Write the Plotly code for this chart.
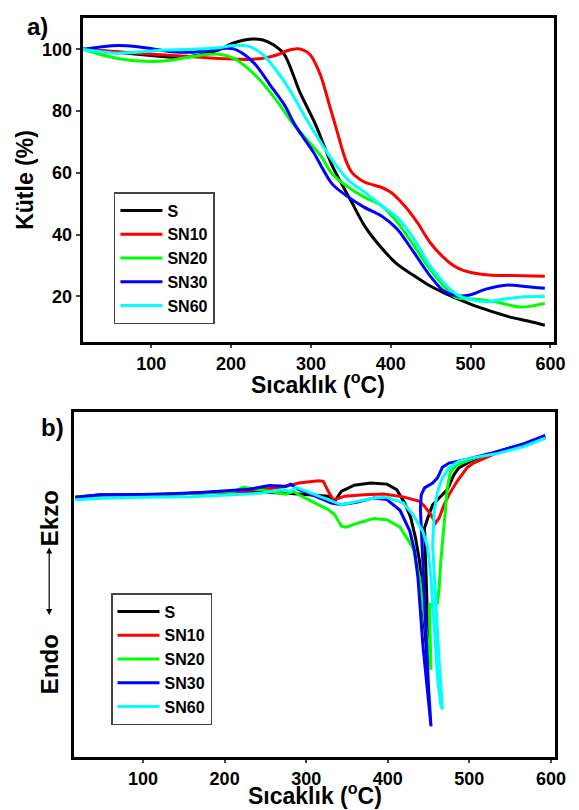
import plotly.graph_objects as go

FONT = "Liberation Sans, Arial, sans-serif"
names = ["S", "SN10", "SN20", "SN30", "SN60"]
colors = ["#000000", "#FF0000", "#00FF00", "#0000FF", "#00FFFF"]
x_title = "Sıcaklık (<sup>o</sup>C)"

# ---- panel a) TGA : temperature (°C) vs mass (%) ----
tga_S_x = [14, 58, 103, 135, 162, 185, 203, 226, 240, 253, 267, 286, 306, 326.5, 351, 367, 388, 408, 429, 449, 470, 490, 511, 531, 552, 572, 593]
tga_S_y = [100, 99, 97.9, 97.3, 98.2, 99.8, 102, 103.3, 103, 101.4, 98.2, 86.2, 75.5, 62.4, 50.5, 42.9, 35.8, 30.4, 26.7, 23.4, 20.7, 18.5, 16.4, 14.7, 13.1, 12.0, 10.6]

tga_SN10_x = [14, 58, 103, 149, 194, 221, 240, 258, 270, 280, 290, 299, 312, 322, 331, 343, 351, 367, 388, 400, 417, 433, 449, 466, 482, 499, 523, 552, 593]
tga_SN10_y = [100, 99.2, 98.4, 97.6, 96.9, 96.7, 97.1, 98.2, 99.5, 100.1, 99.8, 98.2, 91.6, 83, 75, 64.5, 60.2, 57.0, 55.3, 53.7, 49.4, 44.0, 37.5, 32.6, 29.4, 27.8, 26.9, 26.7, 26.5]

tga_SN20_x = [14, 58, 97, 126, 158, 185, 203, 221, 240, 258, 276, 294, 312, 326.5, 347, 367, 388, 408, 429, 449, 470, 482, 511, 531, 564, 593]
tga_SN20_y = [100, 97, 96, 96.5, 97.9, 98.4, 97.1, 93.8, 88.9, 83, 76.4, 71, 65.6, 59.7, 55.3, 52.1, 49.4, 44.0, 36.4, 28.8, 22.3, 19.6, 19.0, 18.2, 16.5, 17.7]

tga_SN30_x = [14, 58, 80, 103, 126, 149, 171, 194, 203, 217, 231, 249, 267, 280, 303, 326.5, 347, 367, 388, 408, 429, 449, 466, 482, 499, 519, 544, 568, 593]
tga_SN30_y = [100, 101.2, 100.9, 100.1, 99.2, 99, 99.5, 100.3, 100.1, 98.2, 94.9, 88.4, 81.9, 75.5, 66.7, 56.4, 52.1, 48.8, 46.1, 41.8, 34.2, 26.7, 21.8, 20.2, 20.4, 22.3, 23.6, 23.2, 22.6]

tga_SN60_x = [14, 58, 103, 149, 185, 203, 222, 240, 258, 276, 294, 312, 326.5, 347, 367, 388, 408, 429, 449, 470, 482, 499, 519, 540, 564, 593]
tga_SN60_y = [100, 98.7, 99.5, 100, 100.5, 101.2, 100.9, 98.2, 92.7, 85.7, 77.5, 69.9, 64.2, 57.5, 53.8, 49.4, 45.6, 38.6, 29.9, 23.4, 20.7, 19.0, 18.2, 19.0, 19.8, 19.9]

# ---- panel b) DSC : temperature (°C) vs heat flow (arbitrary units) ----
dsc_S_x = [17, 50, 100, 150, 211, 271, 303, 327, 331, 335, 343, 359, 379, 399, 411, 421, 428, 434, 439, 443, 447, 449, 448, 446, 445, 449, 455, 463, 473, 481, 487, 505, 535, 567, 593]
dsc_S_y = [75.3, 76.0, 76.0, 76.3, 77.0, 76.5, 76.0, 75.6, 75.1, 74.1, 77.0, 78.8, 79.4, 79.1, 77.5, 73.5, 69.5, 63.5, 56.7, 45.1, 32.6, 26.0, 45.0, 60.0, 66.4, 69.3, 73.1, 75.1, 77.5, 81.8, 83.8, 86.2, 88.6, 90.6, 92.8]

dsc_SN10_x = [17, 50, 100, 150, 211, 271, 291, 315, 321, 327, 333, 339, 347, 371, 395, 419, 431, 439, 445, 453, 458.5, 463, 469, 475, 485, 497, 505, 535, 567, 593]
dsc_SN10_y = [75.0, 76.0, 76.0, 76.3, 76.8, 78.2, 79.4, 80.1, 79.9, 77.0, 74.6, 74.9, 75.6, 76.0, 76.2, 75.4, 74.6, 74.1, 72.7, 70.2, 67.8, 69.3, 73.1, 76.0, 79.9, 83.8, 85.2, 88.3, 90.3, 92.5]

dsc_SN20_x = [17, 50, 100, 150, 211, 223, 251, 275, 285, 291, 311, 327, 335, 343, 349, 363, 383, 399, 415, 423, 431, 439, 445, 449, 453, 451, 455, 461, 463, 465, 469, 473, 477, 485, 505, 535, 567, 593]
dsc_SN20_y = [75.3, 76.0, 76.0, 76.3, 77.0, 78.2, 77.2, 76.2, 77.0, 76.0, 73.6, 71.7, 70.2, 66.9, 66.6, 67.8, 69.1, 68.8, 66.6, 63.5, 60.6, 51.9, 41.2, 32.6, 25.3, 44.1, 44.6, 44.6, 49.0, 56.7, 68.3, 78.0, 82.8, 84.7, 86.5, 88.5, 90.5, 92.7]

dsc_SN30_x = [17, 47, 100, 127, 170, 207, 230, 255, 275, 281, 291, 311, 331, 343, 363, 383, 399, 415, 427, 433, 437, 443, 449, 453, 450, 446, 442, 440, 441, 445, 455, 461, 467, 475, 495, 535, 567, 593]
dsc_SN30_y = [75.3, 76.0, 76.1, 76.2, 76.7, 77.2, 77.6, 78.7, 78.5, 79.1, 77.5, 75.6, 73.6, 73.1, 73.9, 75.1, 74.6, 71.5, 65.5, 59.6, 51.9, 32.6, 18.1, 8.9, 20.0, 40.0, 62.0, 72.0, 76.0, 78.0, 79.4, 80.9, 84.0, 85.2, 86.2, 88.6, 90.8, 93.2]

dsc_SN60_x = [17, 50, 100, 160, 211, 247, 271, 281, 287, 311, 331, 343, 363, 383, 399, 419, 431, 443, 449, 453, 457, 461, 465, 467, 463, 458.5, 455, 457, 461, 467, 475, 487, 503, 535, 567, 593]
dsc_SN60_y = [74.6, 75.0, 75.3, 75.4, 76.0, 76.5, 77.5, 77.0, 78.2, 76.0, 74.1, 73.1, 74.1, 75.1, 75.3, 73.6, 70.2, 65.4, 60.6, 51.9, 37.4, 22.9, 15.0, 13.8, 27.7, 47.0, 61.5, 71.2, 77.0, 80.9, 83.8, 85.7, 86.7, 88.0, 90.0, 92.4]

tga_x = [tga_S_x, tga_SN10_x, tga_SN20_x, tga_SN30_x, tga_SN60_x]
tga_y = [tga_S_y, tga_SN10_y, tga_SN20_y, tga_SN30_y, tga_SN60_y]
dsc_x = [dsc_S_x, dsc_SN10_x, dsc_SN20_x, dsc_SN30_x, dsc_SN60_x]
dsc_y = [dsc_S_y, dsc_SN10_y, dsc_SN20_y, dsc_SN30_y, dsc_SN60_y]

fig = go.Figure()
for n, c, xs, ys in zip(names, colors, tga_x, tga_y):
    fig.add_trace(go.Scatter(x=xs, y=ys, name=n, mode="lines",
                             line=dict(color=c, width=3, shape="spline", smoothing=0.8),
                             xaxis="x", yaxis="y", legend="legend"))
for n, c, xs, ys in zip(names, colors, dsc_x, dsc_y):
    fig.add_trace(go.Scatter(x=xs, y=ys, name=n, mode="lines",
                             line=dict(color=c, width=3),
                             xaxis="x2", yaxis="y2", legend="legend2"))

tickfont = dict(family=FONT, size=18, color="black", weight="bold")
titlefont = dict(family=FONT, size=23, color="black", weight="bold")
labelfont = dict(family=FONT, size=24, color="black", weight="bold")
legfont = dict(family=FONT, size=16, color="black", weight="bold")
axis_common = dict(showline=True, linewidth=3, linecolor="black", mirror=True,
                   showgrid=False, zeroline=False, tickfont=tickfont)

W, H = 579, 810
fig.update_layout(
    width=W, height=H, margin=dict(l=0, r=0, t=0, b=0),
    paper_bgcolor="white", plot_bgcolor="white",
    xaxis=dict(domain=[76 / W, 557 / W], range=[14, 605], anchor="y",
               ticks="outside", ticklen=3, tickwidth=2, tickmode="linear", tick0=0, dtick=100,
               **axis_common),
    yaxis=dict(domain=[1 - 334 / H, 1 - 10 / H], range=[5.2, 110.1], anchor="x",
               ticks="outside", ticklen=4, tickwidth=2, tickvals=[20, 40, 60, 80, 100],
               title=dict(text="Kütle (%)", font=titlefont, standoff=2),
               **axis_common),
    xaxis2=dict(domain=[67 / W, 558 / W], range=[15, 605.5], anchor="y2",
                ticks="outside", ticklen=3, tickwidth=2, tickmode="linear", tick0=0, dtick=100,
                **axis_common),
    yaxis2=dict(domain=[1 - 749 / H, 1 - 404 / H], range=[0, 100], anchor="x2",
                ticks="", showticklabels=False, **axis_common),
    legend=dict(x=108 / W, y=1 - 184 / H, xanchor="left", yanchor="top",
                bgcolor="white", bordercolor="#444444", borderwidth=1.5,
                font=legfont, itemwidth=42),
    legend2=dict(x=105 / W, y=1 - 585 / H, xanchor="left", yanchor="top",
                 bgcolor="white", bordercolor="#444444", borderwidth=1.5,
                 font=legfont, itemwidth=42),
    annotations=[
        dict(text=x_title, x=316 / W, y=1 - 375 / H, xref="paper", yref="paper",
             xanchor="center", yanchor="middle", showarrow=False, font=titlefont),
        dict(text=x_title, x=313 / W, y=1 - 786 / H, xref="paper", yref="paper",
             xanchor="center", yanchor="middle", showarrow=False, font=titlefont),
        dict(text="a)", x=30 / W, y=1 - 18 / H, xref="paper", yref="paper",
             xanchor="center", yanchor="middle", showarrow=False, font=labelfont),
        dict(text="b)", x=45 / W, y=1 - 419 / H, xref="paper", yref="paper",
             xanchor="center", yanchor="middle", showarrow=False, font=labelfont),
        dict(text="Ekzo", x=42 / W, y=1 - 510 / H, xref="paper", yref="paper",
             xanchor="center", yanchor="middle", showarrow=False, textangle=-90, font=labelfont),
        dict(text="Endo", x=42 / W, y=1 - 656 / H, xref="paper", yref="paper",
             xanchor="center", yanchor="middle", showarrow=False, textangle=-90, font=labelfont),
        dict(text="", x=42 / W, y=1 - 607 / H, xref="paper", yref="paper",
             showarrow=True, ax=0, ay=-69, axref="pixel", ayref="pixel",
             arrowside="end+start", arrowhead=2, startarrowhead=2,
             arrowwidth=1.2, arrowcolor="black"),
    ],
)

fig.write_html("out.html")
